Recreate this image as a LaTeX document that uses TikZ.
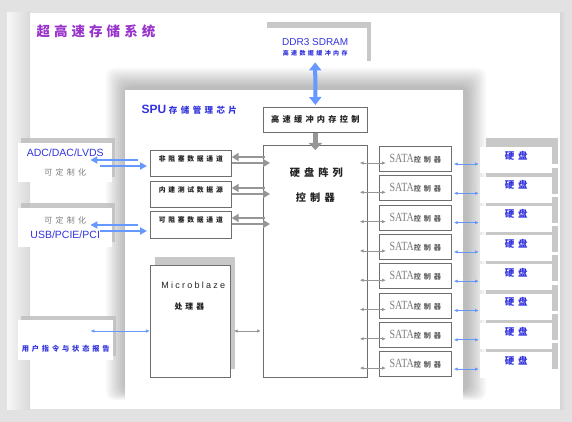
\documentclass[tikz,border=0pt]{standalone}
\usepackage{fontspec}
\setmainfont{Liberation Sans}
\newfontfamily\cjkA{Noto Sans CJK SC}[LetterSpace=40]
\newfontfamily\cjkB{Noto Sans CJK SC}[LetterSpace=30]
\newfontfamily\mbfont{Liberation Sans}[LetterSpace=25]
\newfontfamily\satafont{Liberation Serif}[FakeStretch=0.8]
\usetikzlibrary{arrows.meta,calc,shadows}
\definecolor{PanelGray}{RGB}{226,226,226}
\definecolor{TitlePurple}{RGB}{153,51,204}
\definecolor{TextBlue}{RGB}{51,51,221}
\definecolor{LinkBlue}{RGB}{102,153,255}
\definecolor{LinkGray}{RGB}{150,150,150}
\definecolor{EdgeGray}{RGB}{110,110,110}
\definecolor{SoftText}{RGB}{125,125,125}
\definecolor{InkText}{RGB}{35,35,35}
\tikzset{
  box/.style={draw=EdgeGray,line width=0.7pt,fill=white,inner sep=0pt,anchor=north west},
  plain/.style={fill=white,inner sep=0pt,anchor=north west},
  lift/.style 2 args={drop shadow={shadow xshift=#1,shadow yshift=#2,fill=gray!50,opacity=0.85}},
  cnsmall/.style={font=\cjkA\fontsize{6.8}{8}\selectfont\bfseries,text=InkText},
  bluepair/.style={LinkBlue,line width=2pt,-{Triangle[length=7pt,width=7pt]}},
  graypair/.style={LinkGray,line width=2.5pt,-{Triangle[length=7pt,width=8pt]}},
  thinblue/.style={LinkBlue,line width=0.8pt,{Latex[length=4pt,width=3.5pt]}-{Latex[length=4pt,width=3.5pt]}},
  thingray/.style={LinkGray,line width=0.8pt,{Latex[length=4pt,width=3.5pt]}-{Latex[length=4pt,width=3.5pt]}},
  bigblue/.style={LinkBlue,line width=4pt,{Triangle[length=8pt,width=12pt]}-{Triangle[length=8pt,width=12pt]}},
  biggray/.style={LinkGray,line width=5pt,-{Triangle[length=7pt,width=13pt]}}
}
\newcommand{\sata}{{\satafont\fontsize{12.5}{13}\selectfont\color{SoftText}SATA}{\cjkA\fontsize{7.2}{8}\selectfont\bfseries\color{SoftText!80!black}控制器}}

\begin{document}
\begin{tikzpicture}[x=1pt,y=-1pt]
  % canvas and outer panel
  \fill[PanelGray] (0,0) rectangle (572,422);
  \useasboundingbox (0,0) rectangle (572,422);
  \fill[white] (7,13) rectangle (560,409);
  \shade[left color=gray!6,right color=gray!30] (7,13) rectangle (30,409);
  \shade[left color=gray!32,right color=PanelGray] (560,13) rectangle (566,409);
  \node[anchor=west,font=\cjkB\fontsize{13.5}{15}\selectfont\bfseries,text=TitlePurple] (title) at (33,31) {超高速存储系统};

  % SPU panel
  \foreach \k in {0,...,9}
    \fill[black,opacity=0.026,rounded corners=8] (106+2*\k,68+2*\k) rectangle (486-2*\k,400-\k);
  \fill[white] (125,90) rectangle (463,403);
  \node[anchor=west,text=TextBlue] (spu) at (138,110)
    {{\bfseries\fontsize{12}{14}\selectfont SPU} {\cjkA\fontsize{8.5}{10}\selectfont\bfseries 存储管理芯片}};

  % memory
  \node[plain,lift={4pt}{6pt},minimum width=104,minimum height=39,align=center,text=TextBlue,font=\fontsize{10}{12}\selectfont] (ddr) at (263,28)
    {DDR3 SDRAM\\[-2pt]{\cjkA\fontsize{6}{7}\selectfont\bfseries 高速数据缓冲内存}};
  \node[box,font=\cjkA\fontsize{8.2}{10}\selectfont\bfseries,text=InkText,minimum width=104,minimum height=25] (ctrl) at (263,107) {高速缓冲内存控制};
  \node[box,minimum width=104,minimum height=232] (hdc) at (263,145) {};
  \node[font=\cjkA\fontsize{10.2}{12}\selectfont\bfseries,text=InkText] (hdc1) at ($(hdc.north)+(1,28)$) {硬盘阵列};
  \node[font=\cjkA\fontsize{10.2}{12}\selectfont\bfseries,text=InkText] (hdc2) at ($(hdc.north)+(0,53)$) {控制器};
  \draw[bigblue] ([yshift=5pt]ddr.south) -- ([yshift=2pt]ctrl.north);
  \draw[biggray] (ctrl.south) -- ([yshift=-5pt]hdc.north);

  % data channels
  \node[box,cnsmall,minimum width=81,text height=11.5pt,text depth=14.5pt] (nb) at (150,150) {非阻塞数据通道};
  \node[box,cnsmall,minimum width=81,text height=11.5pt,text depth=14.5pt] (bt) at (150,181) {内建测试数据源};
  \node[box,cnsmall,minimum width=81,text height=11.5pt,text depth=15.5pt] (kz) at (150,211) {可阻塞数据通道};
  \foreach \b in {nb,bt,kz} {
    \draw[graypair] ($(\b.north east -| hdc.west)+(2,7)$) -- ($(\b.north east)+(0,7)$);
    \draw[graypair] ($(\b.north east)+(0,13)$) -- ($(\b.north east -| hdc.west)+(7,13)$);
  }

  % processor
  \node[box,lift={5pt}{8pt},minimum width=80,minimum height=112] (mb) at (150,265) {};
  \node[font=\mbfont\fontsize{9}{11}\selectfont,text=InkText] (mb1) at ($(mb.north)+(3,20)$) {Microblaze};
  \node[font=\cjkA\fontsize{7.8}{9}\selectfont\bfseries,text=InkText] (mb2) at ($(mb.north)+(-1,42)$) {处理器};

  % outside interfaces
  \node[plain,lift={3pt}{5pt},minimum width=94,minimum height=39,align=center,font=\fontsize{10.5}{12}\selectfont] (adc) at (18,143)
    {\textcolor{TextBlue}{ADC/DAC/LVDS}\\[7pt]{\cjkA\fontsize{8}{9}\selectfont\color{SoftText}可定制化}};
  \node[plain,lift={3pt}{5pt},minimum width=94,minimum height=39,align=center,font=\fontsize{10.5}{12}\selectfont] (usb) at (18,208)
    {{\cjkA\fontsize{8}{9}\selectfont\color{SoftText}可定制化}\\[3pt]\textcolor{TextBlue}{USB/PCIE/PCI}};
  \node[plain,lift={3pt}{4pt},minimum width=95,text height=31pt,text depth=9pt,font=\cjkA\fontsize{7.2}{8}\selectfont\bfseries,text=TextBlue] (user) at (18,320) {用户指令与状态报告};
  \draw[bluepair] ($(nb.north west)+(-12,10)$) -- ($(adc.east |- nb.north)+(-22,10)$);
  \draw[bluepair] ($(adc.east |- nb.north)+(-12,16)$) -- ($(nb.north west)+(-3,16)$);
  \draw[bluepair] ($(kz.north west)+(-12,14)$) -- ($(usb.east |- kz.north)+(-22,14)$);
  \draw[bluepair] ($(usb.east |- kz.north)+(-12,20)$) -- ($(kz.north west)+(-3,20)$);
  \draw[thinblue] ($(user.east |- mb.north)+(-23,66)$) -- ($(mb.north west)+(0,66)$);
  \draw[thingray] ($(mb.north east)+(3,66)$) -- ($(hdc.west |- mb.north)+(-2,66)$);

  % SATA controllers and disks
  \foreach \i in {7,6,...,0} {
    \node[plain,lift={6pt}{9pt},minimum width=72,text height=12pt,text depth=14pt,font=\cjkA\fontsize{9.5}{11}\selectfont\bfseries,text=TextBlue] (d\i) at (480,147+29.3*\i) {硬盘};
  }
  \foreach \i in {0,...,7} {
    \node[box,minimum width=72,minimum height=25] (s\i) at (379,146+29.3*\i) {\sata};
    \draw[thingray] ($(hdc.east |- s\i.north)+(-8,17)$) -- ($(s\i.north west)+(7,17)$);
    \draw[thinblue] ($(s\i.north east)+(2,18)$) -- ($(d\i.north west)+(-1,17)$);
  }
\end{tikzpicture}
\end{document}
